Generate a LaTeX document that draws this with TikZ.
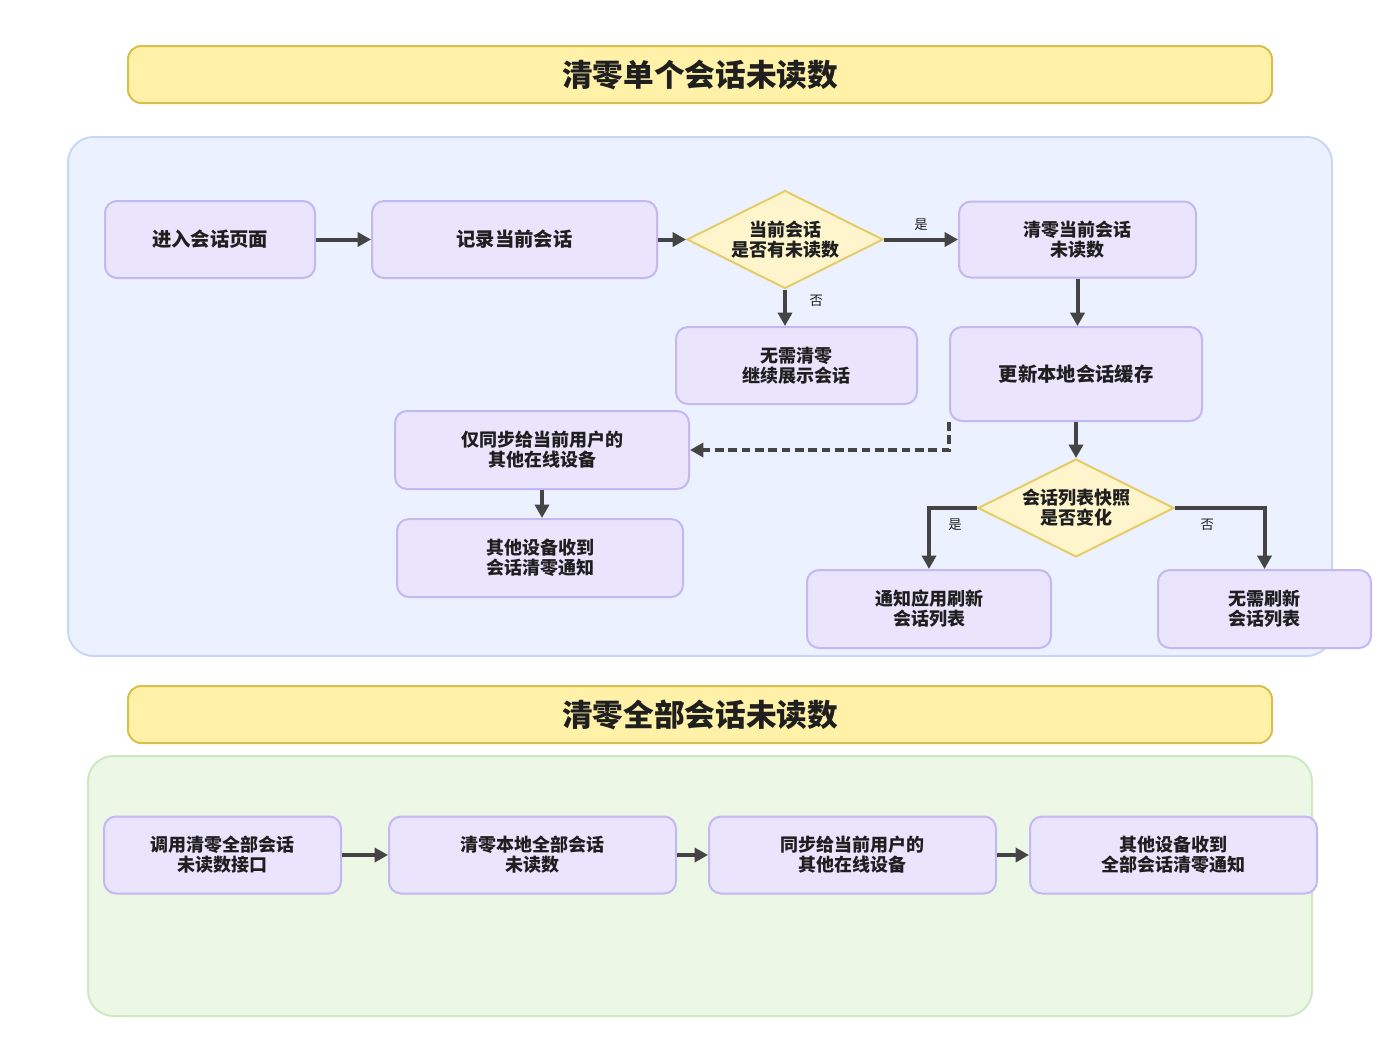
\documentclass[tikz,border=0pt]{standalone}
\usepackage{fontspec}
\setmainfont{Noto Sans CJK SC}
\usetikzlibrary{shapes.geometric,arrows.meta}

\definecolor{titlefill}{HTML}{FFF2A8}
\definecolor{titleline}{HTML}{D8C04F}
\definecolor{bluefill}{HTML}{EBF1FE}
\definecolor{blueline}{HTML}{C6D8F5}
\definecolor{greenfill}{HTML}{EDF7E5}
\definecolor{greenline}{HTML}{CDE8C3}
\definecolor{boxfill}{HTML}{EAE4FD}
\definecolor{boxline}{HTML}{C3B8F2}
\definecolor{askfill}{HTML}{FFF5CC}
\definecolor{askline}{HTML}{E6CC66}
\definecolor{wire}{HTML}{444444}
\definecolor{ink}{HTML}{1F1F1F}

\begin{document}
\begin{tikzpicture}[x=0.75pt,y=-0.75pt,
  titlebar/.style={draw=titleline,fill=titlefill,line width=1.5pt,rounded corners=10pt,
    minimum width=858pt,minimum height=42.75pt,inner sep=0pt,text=ink,
    font=\bfseries\fontsize{23}{26}\selectfont},
  stepbox/.style={draw=boxline,fill=boxfill,line width=1.5pt,rounded corners=9pt,
    align=center,inner sep=0pt,text=ink,font=\bfseries\fontsize{13.5}{15}\selectfont},
  bigstep/.style={stepbox,font=\bfseries\fontsize{14.5}{16}\selectfont},
  askbox/.style={diamond,aspect=2,draw=askline,fill=askfill,line width=1.5pt,
    minimum width=147pt,minimum height=73.5pt,inner sep=0pt,align=center,text=ink,
    font=\bfseries\fontsize{13.5}{15}\selectfont},
  flow/.style={draw=wire,line width=3pt,-{Triangle[length=10pt,width=10.5pt]}},
  tag/.style={font=\fontsize{10}{12}\selectfont,text=ink,inner sep=2pt}]
  \useasboundingbox (0,0) rectangle (1400,1050);

  % first part
  \node[titlebar] (title1) at (700,74.5) {清零单个会话未读数};
  \draw[draw=blueline,fill=bluefill,line width=1.5pt,rounded corners=19pt]
    (68,137) rectangle (1332,656);

  \node[bigstep,minimum width=157.5pt,minimum height=57.75pt] (enter) at (210,239.5) {进入会话页面};
  \node[bigstep,minimum width=213.75pt,minimum height=57.75pt] (record) at (514.5,239.5) {记录当前会话};
  \node[askbox] (hasunread) at (785,239.5) {当前会话\\是否有未读数};
  \node[stepbox,minimum width=177.75pt,minimum height=57pt] (clearone) at (1077.5,239.5) {清零当前会话\\未读数};
  \node[stepbox,minimum width=180.75pt,minimum height=57.75pt] (keepshow) at (796.5,365.5) {无需清零\\继续展示会话};
  \node[bigstep,minimum width=189pt,minimum height=70.5pt] (cache) at (1076,374) {更新本地会话缓存};
  \node[stepbox,minimum width=220.5pt,minimum height=58.5pt] (syncown) at (542,450) {仅同步给当前用户的\\其他在线设备};
  \node[stepbox,minimum width=214.5pt,minimum height=58.5pt] (gotone) at (540,558) {其他设备收到\\会话清零通知};
  \node[askbox] (changed) at (1076,508) {会话列表快照\\是否变化};
  \node[stepbox,minimum width=183pt,minimum height=58.5pt] (refresh) at (929,609) {通知应用刷新\\会话列表};
  \node[stepbox,minimum width=159.75pt,minimum height=58.5pt] (norefresh) at (1264.5,609) {无需刷新\\会话列表};

  \draw[flow] (enter) -- (record);
  \draw[flow] (record) -- (hasunread);
  \draw[flow] (hasunread) -- node[tag,above=3pt] (yes1) {是} (clearone);
  \draw[flow] (hasunread) -- node[tag,pos=0.3,right=15pt] (no1) {否} (keepshow.north -| hasunread.south);
  \draw[flow] (clearone) -- (clearone |- cache.north);
  \draw[flow,dashed,dash pattern=on 6.5pt off 3.5pt]
    (cache.south west) -- (cache.south west |- syncown.east) -- (syncown.east);
  \draw[flow] (cache) -- (changed);
  \draw[flow] (syncown) -- (syncown |- gotone.north);
  \draw[flow] (changed.west) -| node[tag,pos=0.23,below=5pt] (yes2) {是} (refresh.north);
  \draw[flow] (changed.east) -| node[tag,pos=0.18,below=5pt] (no2) {否} (norefresh.north);

  % second part
  \node[titlebar] (title2) at (700,714.5) {清零全部会话未读数};
  \draw[draw=greenline,fill=greenfill,line width=1.5pt,rounded corners=19pt]
    (88,756) rectangle (1312,1016);

  \node[stepbox,minimum width=177.75pt,minimum height=57.75pt] (callapi) at (222.5,855) {调用清零全部会话\\未读数接口};
  \node[stepbox,minimum width=215.25pt,minimum height=57.75pt] (clearall) at (532.5,855) {清零本地全部会话\\未读数};
  \node[stepbox,minimum width=215.25pt,minimum height=57.75pt] (syncall) at (852.5,855) {同步给当前用户的\\其他在线设备};
  \node[stepbox,minimum width=215.25pt,minimum height=57.75pt] (gotall) at (1173.5,855) {其他设备收到\\全部会话清零通知};

  \draw[flow] (callapi) -- (clearall);
  \draw[flow] (clearall) -- (syncall);
  \draw[flow] (syncall) -- (gotall);
\end{tikzpicture}
\end{document}
